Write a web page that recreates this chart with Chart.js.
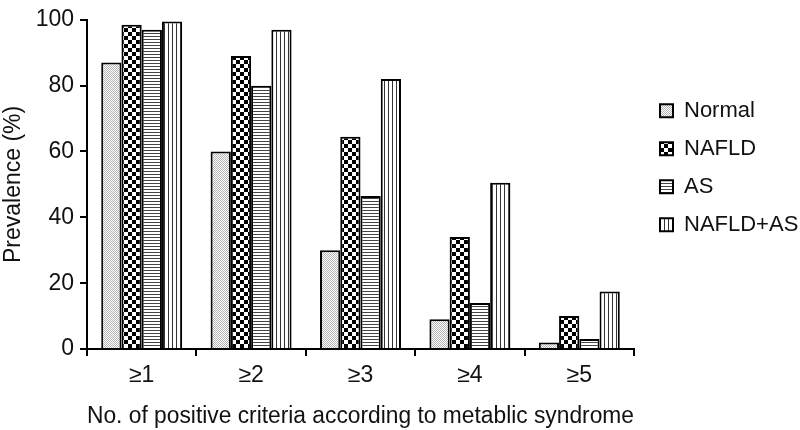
<!DOCTYPE html>
<html>
<head>
<meta charset="utf-8">
<script src="https://cdn.jsdelivr.net/npm/chart.js@4.4.1/dist/chart.umd.min.js"></script>
<style>
  html, body { margin: 0; padding: 0; background: #fff; }
  #wrap { width: 800px; height: 430px; }
</style>
</head>
<body>
<div id="wrap"><canvas id="chart" width="800" height="430"></canvas></div>
<script>
const categories = ['\u22651', '\u22652', '\u22653', '\u22654', '\u22655'];
const seriesNames = ['Normal', 'NAFLD', 'AS', 'NAFLD+AS'];
const normalValues = [87, 60, 30, 9, 2];
const nafldValues = [98.5, 89, 64.5, 34, 10];
const asValues = [97, 80, 46.5, 14, 3];
const bothValues = [99.5, 97, 82, 50.5, 17.5];
const yTicks = [0, 20, 40, 60, 80, 100];

const FONT = "'Liberation Sans', Arial, sans-serif";

// small tiles used as fill patterns
function makePattern(w, h, draw) {
    const c = document.createElement('canvas');
    c.width = w;
    c.height = h;
    const g = c.getContext('2d');
    g.fillStyle = '#fff';
    g.fillRect(0, 0, w, h);
    draw(g);
    return g.createPattern(c, 'repeat');
}

const stipple = makePattern(2, 2, g => {
    g.fillStyle = '#b4b4b4';
    g.fillRect(0, 0, 1, 1);
    g.fillRect(1, 1, 1, 1);
});
const checker = makePattern(8, 8, g => {
    g.fillStyle = '#000';
    g.fillRect(0, 0, 4, 4);
    g.fillRect(4, 4, 4, 4);
});
const hLines = makePattern(3, 3, g => {
    g.fillStyle = '#444';
    g.fillRect(0, 0, 3, 1);
});
const vLines = makePattern(4, 4, g => {
    g.fillStyle = '#333';
    g.fillRect(0, 0, 1, 4);
});

const fills = [stipple, checker, hLines, vLines];
const values = [normalValues, nafldValues, asValues, bothValues];

const ctx = document.getElementById('chart').getContext('2d');
new Chart(ctx, {
    type: 'bar',
    data: {
        labels: categories,
        datasets: seriesNames.map((name, i) => ({
            label: name,
            data: values[i],
            backgroundColor: fills[i],
            borderColor: '#000',
            borderWidth: 2,
            categoryPercentage: 0.74,
            barPercentage: 1
        }))
    },
    options: {
        responsive: false,
        animation: false,
        layout: { padding: { top: 12, left: 0, right: 0, bottom: 0 } },
        plugins: {
            tooltip: { enabled: false },
            legend: {
                position: 'right',
                align: 'start',
                fullSize: false,
                maxWidth: 156,
                title: { display: true, text: '', font: { size: 10 }, padding: { top: 52, bottom: 0 } },
                labels: {
                    color: '#111',
                    font: { family: FONT, size: 22 },
                    boxWidth: 13,
                    boxHeight: 13,
                    padding: 16
                }
            }
        },
        scales: {
            x: {
                grid: {
                    offset: true,
                    drawOnChartArea: false,
                    drawTicks: true,
                    tickLength: 7,
                    color: '#000',
                    lineWidth: 2
                },
                border: { display: true, color: '#000', width: 2 },
                ticks: {
                    color: '#111',
                    font: { family: FONT, size: 23 },
                    padding: 6,
                    maxRotation: 0
                },
                title: {
                    display: true,
                    text: 'No. of positive criteria according to metablic syndrome',
                    color: '#111',
                    font: { family: FONT, size: 23 },
                    padding: { top: 0, bottom: 0 }
                },
                afterFit: scale => { scale.height = 81; }
            },
            y: {
                min: 0,
                max: 100,
                afterBuildTicks: scale => {
                    scale.ticks = yTicks.map(v => ({ value: v }));
                },
                grid: {
                    drawOnChartArea: false,
                    drawTicks: true,
                    tickLength: 7,
                    color: '#000',
                    lineWidth: 2
                },
                border: { display: true, color: '#000', width: 2 },
                ticks: {
                    color: '#111',
                    font: { family: FONT, size: 23 },
                    padding: 6
                },
                title: {
                    display: true,
                    text: 'Prevalence (%)',
                    color: '#111',
                    font: { family: FONT, size: 23 },
                    padding: { top: 0, bottom: 0 }
                },
                afterFit: scale => { scale.width = 87; }
            },
            // empty strip between the plot and the legend
            gap: {
                type: 'linear',
                position: 'right',
                display: true,
                grid: { display: false },
                border: { display: false },
                ticks: { display: false },
                afterFit: scale => { scale.width = 10; }
            }
        }
    }
});
</script>
</body>
</html>
